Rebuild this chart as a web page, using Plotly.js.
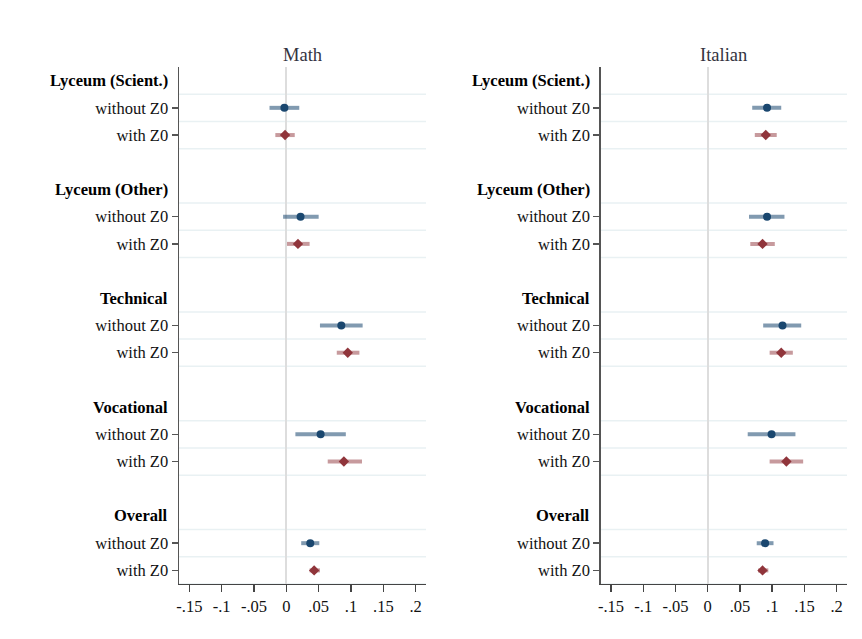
<!DOCTYPE html>
<html><head><meta charset="utf-8">
<script src="https://cdn.plot.ly/plotly-3.0.1.min.js"></script>
<style>html,body{margin:0;padding:0;background:#fff}#chart{width:862px;height:639px}</style>
</head><body><div id="chart"></div>
<script>
const groups = ["Lyceum (Scient.)", "Lyceum (Other)", "Technical", "Vocational", "Overall"];
const rowLabels = ["without Z0", "with Z0"];
const subjects = ["Math", "Italian"];
const xTickVals = [-0.15, -0.1, -0.05, 0, 0.05, 0.1, 0.15, 0.2];
const xTickText = ["-.15", "-.1", "-.05", "0", ".05", ".1", ".15", ".2"];

// Math
const mathWithoutEst = [-0.003, 0.022, 0.085, 0.053, 0.037];
const mathWithoutLo  = [-0.026, -0.005, 0.052, 0.014, 0.023];
const mathWithoutHi  = [0.020, 0.050, 0.118, 0.092, 0.051];
const mathWithEst    = [-0.002, 0.018, 0.095, 0.089, 0.043];
const mathWithLo     = [-0.017, 0.001, 0.078, 0.064, 0.036];
const mathWithHi     = [0.013, 0.036, 0.113, 0.117, 0.052];
// Italian
const itaWithoutEst = [0.092, 0.092, 0.116, 0.099, 0.089];
const itaWithoutLo  = [0.069, 0.064, 0.086, 0.062, 0.076];
const itaWithoutHi  = [0.114, 0.119, 0.145, 0.136, 0.102];
const itaWithEst    = [0.090, 0.085, 0.114, 0.122, 0.085];
const itaWithLo     = [0.073, 0.066, 0.096, 0.096, 0.078];
const itaWithHi     = [0.107, 0.104, 0.132, 0.148, 0.094];

const blue = "#1a476f", blueCI = "rgba(26,71,111,0.55)";
const red = "#90353b", redCI = "rgba(144,53,59,0.5)";
const FONT = "Liberation Serif, Times New Roman, serif";

function ci(est, lo, hi){
  return {type:"data", symmetric:false,
    array: est.map((e,i)=>hi[i]-e), arrayminus: est.map((e,i)=>e-lo[i]),
    thickness:4, width:0};
}
const rowWithout = groups.map((g,i)=>4*i+1);
const rowWith = groups.map((g,i)=>4*i+2);

function mk(est, lo, hi, rows, color, ciColor, symbol, ax){
  const e = ci(est, lo, hi); e.color = ciColor;
  return {type:"scatter", mode:"markers", x:est, y:rows, xaxis:"x"+ax, yaxis:"y"+ax,
    error_x:e, marker:{color:color, size: symbol==="circle"?8:8, symbol:symbol}, showlegend:false, hoverinfo:"skip"};
}
const data = [
  mk(mathWithoutEst, mathWithoutLo, mathWithoutHi, rowWithout, blue, blueCI, "circle", ""),
  mk(mathWithEst, mathWithLo, mathWithHi, rowWith, red, redCI, "diamond", ""),
  mk(itaWithoutEst, itaWithoutLo, itaWithoutHi, rowWithout, blue, blueCI, "circle", "2"),
  mk(itaWithEst, itaWithLo, itaWithHi, rowWith, red, redCI, "diamond", "2"),
];

const yTickVals = [], yTickText = [];
groups.forEach((g,i)=>{ yTickVals.push(4*i+1, 4*i+2); yTickText.push(rowLabels[0], rowLabels[1]); });

const xax = (dom)=>({domain:dom, range:[-0.166,0.216], showgrid:false, zeroline:true, zerolinecolor:"#dddddd", zerolinewidth:2,
  tickvals:xTickVals, ticktext:xTickText, ticks:"outside", ticklen:7, tickwidth:1.5, tickcolor:"#444",
  showline:true, linecolor:"#444", linewidth:1.5, tickfont:{family:FONT, size:16.5, color:"#111"}});
const yax = (anchor)=>({domain:[0.0861,0.8951], range:[18.5,-0.5], showgrid:false, zeroline:false, anchor:anchor,
  tickvals:yTickVals, ticktext:yTickText, ticks:"outside", ticklen:6, tickwidth:1.5, tickcolor:"#555",
  showline:true, linecolor:"#555", linewidth:1.5, tickfont:{family:FONT, size:16.5, color:"#111"}});

const shapes = [], annotations = [];
["x","x2"].forEach((xr, k)=>{
  const yr = k===0 ? "y" : "y2";
  groups.forEach((g,i)=>{
    [0.5,1.5,2.5].forEach(off=>{
      shapes.push({type:"line", xref:xr+" domain", yref:yr, x0:0, x1:1, y0:4*i+off, y1:4*i+off,
        line:{color:"#e9f1f3", width:1.5}, layer:"below"});
    });
    annotations.push({xref:xr+" domain", yref:yr, x:0, y:4*i, xanchor:"right", yanchor:"middle", xshift:-9,
      text:"<b>"+g+"</b>", showarrow:false, font:{family:FONT, size:16.5, color:"#000"}});
  });
  annotations.push({xref:xr+" domain", yref:"paper", x:0.5, y:1-55/639, xanchor:"center", yanchor:"middle",
    text:subjects[k], showarrow:false, font:{family:FONT, size:18.5, color:"#333340"}});
});

const layout = {
  width:862, height:639, margin:{l:0,r:0,t:0,b:0}, paper_bgcolor:"#fff", plot_bgcolor:"#fff",
  xaxis:xax([179/862, 426/862]), yaxis:yax("x"),
  xaxis2:xax([600.7/862, 847/862]), yaxis2:yax("x2"),
  shapes:shapes, annotations:annotations
};
Plotly.newPlot("chart", data, layout, {staticPlot:true});
</script></body></html>
